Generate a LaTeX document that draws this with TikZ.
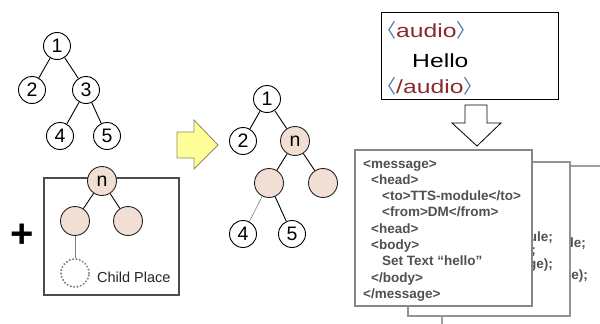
\documentclass[tikz,border=0pt]{standalone}
\usepackage{fontspec}
\setmainfont{Liberation Sans}
\newfontfamily\widefont[FakeStretch=1.3]{Liberation Sans}
\newfontfamily\chevfont{Noto Sans CJK JP}
\definecolor{pinkc}{HTML}{F0DFD2}
\definecolor{msggray}{HTML}{505050}
\definecolor{brblue}{HTML}{4A78B0}
\definecolor{audred}{HTML}{8A2A2E}
\definecolor{yelfill}{HTML}{FFFF99}
\definecolor{yeledge}{HTML}{8C8C5A}
\newcommand\myLT{{\chevfont\color{brblue}〈}}
\newcommand\myGT{{\chevfont\color{brblue}〉}}
\begin{document}
\begin{tikzpicture}[x=1pt,y=-1pt,
  num/.style={circle,draw=black,line width=0.9pt,fill=white,minimum size=27pt,inner sep=0pt,font=\fontsize{19.5}{19.5}\selectfont},
  pnode/.style={circle,draw=black!85,line width=0.9pt,fill=pinkc,minimum size=29pt,inner sep=0pt,font=\fontsize{19.5}{19.5}\selectfont},
  tedge/.style={line width=0.9pt,black},
  lightedge/.style={line width=0.6pt,gray},
  msg/.style={anchor=base west,inner sep=0pt,font=\fontsize{13.5}{16}\selectfont\bfseries,text=msggray},
  bmsg/.style={anchor=base east,inner sep=0pt,font=\fontsize{13.5}{16}\selectfont\bfseries,text=msggray},
  aud/.style={anchor=base west,inner sep=0pt,font=\widefont\fontsize{19}{19}\selectfont},
  page/.style={draw=gray!90,line width=1.4pt,fill=white}
]
\useasboundingbox (0,0) rectangle (600,324);
\clip (0,0) rectangle (600,324);

% ---------- left tree ----------
\node[num] (l1) at (57,46) {1};
\node[num] (l2) at (32,90) {2};
\node[num] (l3) at (86,90) {3};
\node[num] (l4) at (60,136) {4};
\node[num] (l5) at (107,136) {5};
\draw[tedge] (l1) -- (l2);
\draw[tedge] (l1) -- (l3);
\draw[tedge] (l3) -- (l4);
\draw[tedge] (l3) -- (l5);

% ---------- plus and box ----------
\node[inner sep=0pt,font=\fontsize{40}{40}\selectfont\bfseries] (plus) at (22,236) {+};
\draw[draw=black!70,line width=1.2pt] (44,178) rectangle (179,295);
\node[pnode] (bn) at (102,181) {n};
\node[pnode] (bl) at (75,221) {};
\node[pnode] (br) at (128,221) {};
\node[circle,draw=gray,line width=2.3pt,dash pattern=on 0.01pt off 3.4pt,line cap=round,minimum size=28pt,inner sep=0pt] (cp) at (75,273) {};
\draw[tedge] (bn) -- (bl);
\draw[tedge] (bn) -- (br);
\draw[lightedge] (bl) -- (cp);
\node[anchor=west,inner sep=0pt,font=\fontsize{14.5}{14.5}\selectfont,text=black!85] (cpl) at (97,277) {Child Place};

% ---------- yellow arrow ----------
\draw[fill=yelfill,draw=yeledge,line width=0.8pt,line join=miter]
  (177,132) -- (194,132) -- (194,120) -- (218,145) -- (194,169) -- (194,158) -- (177,158) -- cycle;

% ---------- middle tree ----------
\node[num] (m1) at (267,99) {1};
\node[num] (m2) at (243,141) {2};
\node[pnode] (mn) at (295,141) {n};
\node[pnode] (ml) at (269,183) {};
\node[pnode] (mr) at (323,183) {};
\node[num] (m4) at (243,234) {4};
\node[num] (m5) at (292,234) {5};
\draw[tedge] (m1) -- (m2);
\draw[tedge] (m1) -- (mn);
\draw[tedge] (mn) -- (ml);
\draw[tedge] (mn) -- (mr);
\draw[lightedge] (ml) -- (m4);
\draw[tedge] (ml) -- (m5);

% ---------- audio box ----------
\draw[draw=black,line width=1pt] (381,12) rectangle (558,99);
\node[aud] (a1) at (377,37) {\myLT{\color{audred}audio}\myGT};
\node[aud] (a2) at (412,67) {Hello};
\node[aud] (a3) at (377,93) {\myLT{\color{audred}/audio}\myGT};

% ---------- down arrow ----------
\draw[fill=white,draw=black,line width=0.8pt,line join=miter]
  (465,105) -- (487,105) -- (487,123) -- (501,123) -- (477,146) -- (452,123) -- (465,123) -- cycle;

% ---------- stacked pages ----------
\draw[page,draw=gray!75] (610,166) -- (442,166) -- (442,330);
\node[bmsg] (p3a) at (586,247) {le;};
\node[bmsg] (p3b) at (588,279) {e);};
\draw[page,draw=gray!85] (408,162) rectangle (570,316);
\node[bmsg] (p2a) at (553,241) {ule;};
\node[bmsg] (p2b) at (536,254) {;};
\node[bmsg] (p2c) at (553,268) {ge);};
\draw[page,draw=gray!95] (355,150) rectangle (532,306);
\node[msg] (t1) at (363,168) {<message>};
\node[msg] (t2) at (371,184.3) {<head>};
\node[msg] (t3) at (382,200.6) {<to>TTS-module</to>};
\node[msg] (t4) at (382,216.9) {<from>DM</from>};
\node[msg] (t5) at (371,233.2) {<head>};
\node[msg] (t6) at (371,249.5) {<body>};
\node[msg] (t7) at (382,265.8) {Set Text “hello”};
\node[msg] (t8) at (371,282.1) {</body>};
\node[msg] (t9) at (363,298.4) {</message>};
\end{tikzpicture}
\end{document}
